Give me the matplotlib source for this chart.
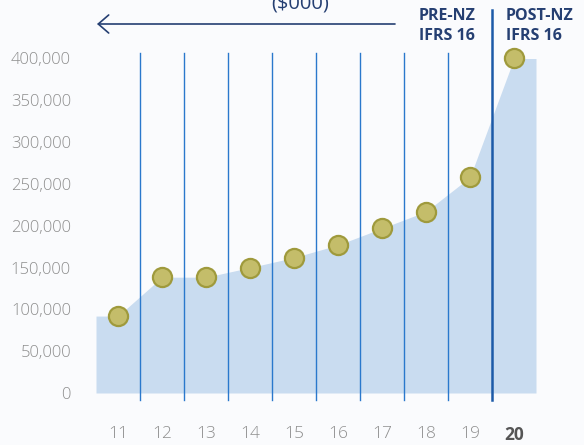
import matplotlib
matplotlib.use("Agg")
import matplotlib.pyplot as plt
import numpy as np

years = [11, 12, 13, 14, 15, 16, 17, 18, 19, 20]
values = [92000, 138500, 138500, 150000, 162000, 177000, 197000, 217000, 258000, 400000]
ytick_vals = [0, 50000, 100000, 150000, 200000, 250000, 300000, 350000, 400000]
ytick_labels = ["0", "50,000", "100,000", "150,000", "200,000", "250,000", "300,000", "350,000", "400,000"]

BG = "#fafbfd"
AREA = "#c9dcf0"
LINE = "#2a78cc"
DARK = "#1c5aa8"
NAVY = "#253f72"
GRAY = "#8e8e8e"
FONT = "Open Sans"

W, H = 584, 445
fig = plt.figure(figsize=(W / 100, H / 100), dpi=100, facecolor=BG)
ax = fig.add_axes([96 / W, 1 - 393 / H, 440 / W, (393 - 58.5) / H])
ax.set_facecolor(BG)
ax.set_xlim(10.5, 20.5)
ax.set_ylim(0, 400000)

# area (flat extensions at each end)
xs = [years[0] - 0.5] + years + [years[-1] + 0.5]
ys = [values[0]] + values + [values[-1]]
ax.fill_between(xs, 0, ys, color=AREA, lw=0, zorder=1)

# vertical separators
trans = ax.get_xaxis_transform()
for i in range(len(years) - 2):
    xpos = years[i] + 0.5
    ax.plot([xpos, xpos], [-7 / 334.5, (393 - 53) / 334.5], color=LINE, lw=1.0,
            transform=trans, clip_on=False, zorder=2)
xpos = years[-2] + 0.5
ax.plot([xpos, xpos], [-7 / 334.5, (393 - 10) / 334.5], color=DARK, lw=1.8,
        transform=trans, clip_on=False, zorder=2)

ax.scatter(years, values, s=190, color="#c4bd6a", edgecolor="#9f9a3c",
           linewidth=1.6, zorder=4, clip_on=False)

for s in ax.spines.values():
    s.set_visible(False)
ax.tick_params(length=0)
ax.set_yticks(ytick_vals)
ax.set_yticklabels(ytick_labels, fontsize=12, color=GRAY, family=FONT, fontweight="light")
ax.tick_params(axis="y", pad=18)
ax.set_xticks(years)
ax.set_xticklabels([str(y) for y in years], fontsize=12.5, color=GRAY, family=FONT,
                   fontweight="light")
ax.tick_params(axis="x", pad=24)
lbl = ax.get_xticklabels()[-1]
lbl.set_fontweight("bold")
lbl.set_color("#555555")

# header texts
for (x, ha, lines) in [(475, "right", ["PRE-NZ", "IFRS 16"]),
                       (506, "left", ["POST-NZ", "IFRS 16"])]:
    for j, t in enumerate(lines):
        fig.text(x / W, 1 - (16 + 20 * j) / H, t, ha=ha, va="center", fontsize=11.5,
                 fontweight="bold", color=NAVY, family=FONT)
fig.text(300 / W, 1 - 4 / H, "($000)", ha="center", va="center", fontsize=14.5,
         color=NAVY, family=FONT)

fig.add_artist(matplotlib.patches.FancyArrowPatch(
    (395 / W, 1 - 24 / H), (97 / W, 1 - 24 / H), transform=fig.transFigure,
    arrowstyle="->,head_length=0.75,head_width=0.65", mutation_scale=10,
    color=NAVY, lw=1.2, shrinkA=0, shrinkB=0))

fig.savefig("out.png", dpi=100, facecolor=BG)
